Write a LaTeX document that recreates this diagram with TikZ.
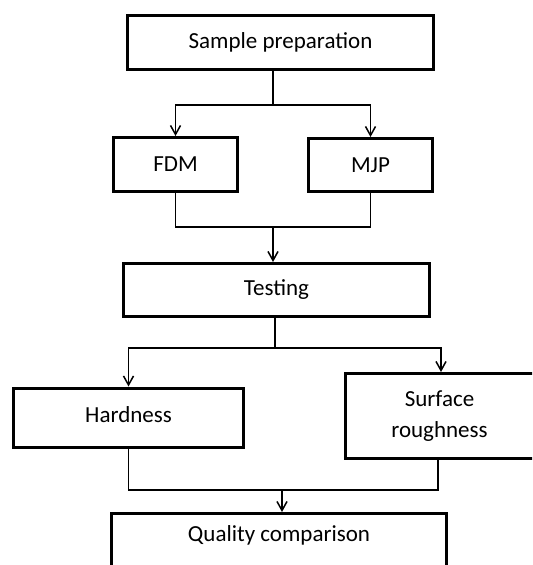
\documentclass[tikz,border=0pt]{standalone}
\usepackage{fontspec}
\setmainfont{Carlito}
\usetikzlibrary{arrows.meta}

\begin{document}
\begin{tikzpicture}[x=0.5pt, y=-0.5pt,
    every node/.style={font=\fontsize{11.5}{15.5}\selectfont},
    stepbox/.style={draw, line width=1.5pt, inner sep=0pt, align=center},
    link/.style={line width=0.75pt},
    arr/.style={link, -{Straight Barb[length=4.5pt, width=5pt]}}]

    \useasboundingbox (0,0) rectangle (532,565);
    \clip (0,0) rectangle (532,565);

    %% Flow of the work

    % Boxes
    \node[stepbox, minimum width=153pt, minimum height=27pt] (sample) at (280.5,42.5) {Sample preparation};
    \node[stepbox, minimum width=62pt, minimum height=27pt] (fdm) at (175.5,164.5) {FDM};
    \node[stepbox, minimum width=62pt, minimum height=26.5pt] (mjp) at (370.5,165) {MJP};
    \node[stepbox, minimum width=153pt, minimum height=26.5pt] (testing) at (276.5,290) {Testing};
    \node[stepbox, minimum width=115pt, minimum height=29.5pt, text height=9pt, text depth=4pt, yshift=1.5pt] (hard) at (128.5,420.5) {Hardness};
    \node[stepbox, minimum width=106pt, minimum height=42.5pt,
          label={[align=center, xshift=-6pt]center:Surface\\roughness}] (surf) at (451.5,416) {};
    \node[stepbox, minimum width=167.5pt, anchor=north, text height=14pt, text depth=26pt] (quality) at (279,512) {Quality comparison};

    % Sample preparation to both printers
    \coordinate (split) at (273,105);
    \draw[link] (sample.south -| split) -- (split);
    \draw[arr] (split) -| (fdm);
    \draw[arr] (split) -| (mjp);

    % Both printers to testing
    \coordinate (merge) at (273,227);
    \draw[link] (fdm) |- (merge) -| (mjp);
    \draw[arr] (merge) -- (testing.north -| merge);

    % Testing to both tests
    \coordinate (tsplit) at (275,348);
    \coordinate (rdrop) at (441,348);
    \draw[link] (testing.south -| tsplit) -- (tsplit);
    \draw[arr] (tsplit) -| (hard);
    \draw[arr] (tsplit) -- (rdrop) -- (surf.north -| rdrop);

    % Both tests to comparison
    \coordinate (tmerge) at (282,490);
    \coordinate (rrise) at (438,490);
    \draw[link] (hard) |- (tmerge) -- (rrise) -- (surf.south -| rrise);
    \draw[arr] (tmerge) -- (quality.north -| tmerge);

\end{tikzpicture}
\end{document}
